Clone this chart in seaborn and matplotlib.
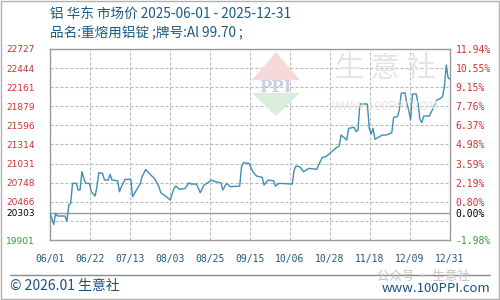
import numpy as np
import pandas as pd
import matplotlib
matplotlib.use("Agg")
import matplotlib.pyplot as plt
from matplotlib.patches import Polygon, Rectangle
from matplotlib.lines import Line2D
from matplotlib.collections import LineCollection
import seaborn as sns

# ---- data ----
start_date = "2025-06-01"
day_offsets = [0, 2, 3, 4, 8, 9, 10, 11, 12, 14, 15, 16, 17, 18, 19, 21, 22, 24, 25, 26,
               28, 29, 31, 32, 33, 36, 37, 38, 40, 43, 44, 46, 48, 49, 51, 52, 56, 58, 59, 62,
               64, 66, 67, 69, 72, 74, 75, 78, 80, 82, 84, 86, 88, 91, 92, 94, 96, 101, 102, 103,
               106, 108, 110, 113, 114, 116, 119, 120, 122, 129, 130, 131, 133, 135, 137, 138, 142, 145, 147, 149,
               152, 154, 155, 157, 158, 159, 162, 163, 164, 165, 169, 170, 171, 172, 173, 177, 179, 182, 183, 185,
               186, 187, 189, 190, 191, 192, 193, 195, 196, 197, 198, 199, 202, 204, 206, 208, 209, 210, 211, 212, 213]
prices = [20303, 20133, 20295, 20256, 20256, 20180, 20418, 20443, 20739, 20739, 20640, 20640, 20911, 20813, 20739, 20739, 20615, 20551, 20689, 20896,
          20886, 20788, 20788, 20872, 20788, 20778, 20615, 20689, 20798, 20798, 20541, 20640, 20729, 20837, 20946, 20911, 20798, 20689, 20600, 20541,
          20492, 20665, 20699, 20650, 20665, 20748, 20729, 20729, 20600, 20714, 20748, 20788, 20763, 20748, 20640, 20739, 20689, 20699, 20985, 21044,
          21034, 20911, 20847, 20828, 20714, 20788, 20778, 20699, 20739, 20729, 20936, 20995, 20985, 20911, 20946, 20961, 20946, 21124, 21134, 21183,
          21257, 21291, 21454, 21405, 21380, 21553, 21568, 21503, 21528, 21913, 21913, 21553, 21469, 21553, 21391, 21454, 21454, 21488, 21716, 21726,
          21824, 22071, 22081, 21923, 21824, 21676, 22061, 22061, 21923, 21686, 21636, 21735, 21735, 21849, 21972, 21997, 22021, 22169, 22490, 22300, 22280]
base_price = 20303
y_ticks = [22727, 22444, 22161, 21879, 21596, 21314, 21031, 20748, 20466, 20183, 19901]
y_labels = ["22727", "22444", "22161", "21879", "21596", "21314", "21031", "20748", "20466", "", "19901"]
pct_labels = ["11.94%", "10.55%", "9.15%", "7.76%", "6.37%", "4.98%", "3.59%", "2.19%", "0.80%", "", "-1.98%"]
x_labels = ["06/01", "06/22", "07/13", "08/03", "08/25", "09/15", "10/06", "10/28", "11/18", "12/09", "12/31"]
end_date = "2025-12-31"
title1 = "铝 华东 市场价 2025-06-01 - 2025-12-31"
title2 = "品名:重熔用铝锭 ;牌号:Al 99.70 ;"

dates = pd.to_datetime(start_date) + pd.to_timedelta(day_offsets, unit="D")
df = pd.DataFrame({"date": dates, "price": prices})
df["day"] = (df["date"] - pd.to_datetime(start_date)).dt.days
total_days = (pd.to_datetime(end_date) - pd.to_datetime(start_date)).days

sns.set_style("white")
plt.rcParams["font.family"] = ["Noto Sans CJK SC", "DejaVu Sans"]

fig = plt.figure(figsize=(5, 3), dpi=100)
ax = fig.add_axes([0.1, 0.2, 0.8, 0.6367])

# watermark logo & text (decoration)
tf = fig.transFigure
def P(x, y):
    return (x / 500, 1 - y / 300)
fig.patches.append(Polygon([P(252, 80), P(276, 52), P(300, 80)], closed=True,
                           transform=tf, facecolor="#f6dada", edgecolor="none", zorder=0))
fig.patches.append(Polygon([P(252, 93), P(276, 116), P(300, 93)], closed=True,
                           transform=tf, facecolor="#d9eedb", edgecolor="none", zorder=0))
fig.text(276 / 500, 1 - 87 / 300, "PPI", ha="center", va="center", fontsize=12,
         color="#ccd0e2", fontweight="bold", family="DejaVu Serif", zorder=0)
fig.text(385 / 500, 1 - 69 / 300, "生 意 社", ha="center", va="center", fontsize=21,
         color="#e2e4ea", zorder=0)
fig.text(385 / 500, 1 - 107 / 300, "WWW.100PPI.COM", ha="center", va="center", fontsize=9,
         color="#e6e6e6", zorder=0)
ax.patch.set_visible(False)

sns.lineplot(data=df, x="day", y="price", ax=ax, color="#3d8fb5", linewidth=1.0, zorder=5)

ax.set_xlim(0, total_days)
ax.set_ylim(min(y_ticks), max(y_ticks))
xt = np.linspace(0, total_days, len(x_labels))
ax.set_xticks(xt)
ax.set_xticklabels(x_labels, family="DejaVu Sans Mono", fontsize=7, color="#1e5a7e")
ax.set_yticks(y_ticks + [base_price])
ax.set_yticklabels(y_labels + [str(base_price)], family="DejaVu Sans", fontsize=6.5)
for lab, v in zip(ax.get_yticklabels(), y_ticks + [base_price]):
    if v == base_price:
        lab.set_color("black")
    elif v == min(y_ticks):
        lab.set_color("#3a9a3a")
    else:
        lab.set_color("#cc3333")
ax.set_xlabel("")
ax.set_ylabel("")
ax.tick_params(axis="both", length=0)
ax.tick_params(axis="y", pad=11)
ax.tick_params(axis="x", pad=10)

for s in ax.spines.values():
    s.set_color("#999999")
    s.set_linewidth(1.0)

ax2 = ax.twinx()
ax2.patch.set_visible(False)
ax2.set_ylim(ax.get_ylim())
ax2.set_yticks(y_ticks + [base_price])
ax2.set_yticklabels(pct_labels + ["0.00%"], family="DejaVu Sans Mono", fontsize=7)
for lab, v in zip(ax2.get_yticklabels(), y_ticks + [base_price]):
    if v == base_price:
        lab.set_color("black")
    elif v == min(y_ticks):
        lab.set_color("#3a9a3a")
    else:
        lab.set_color("#cc3333")
ax2.tick_params(axis="y", length=0, pad=4)
for s in ax2.spines.values():
    s.set_visible(False)
ax2.grid(False)

# dashed grid: figure-level artists placed in the axes' frame
ax_w_px, ax_h_px = 400.0, 191.0
dash_on, dash_period = 3.0, 5.0
segs = []
xs = np.arange(0, ax_w_px, dash_period) / ax_w_px
for v in y_ticks[1:-1]:
    yf = (v - min(y_ticks)) / (max(y_ticks) - min(y_ticks))
    for x0 in xs:
        segs.append([(x0, yf), (min(x0 + dash_on / ax_w_px, 1), yf)])
ys = np.arange(0, ax_h_px, dash_period) / ax_h_px
for x in xt[1:-1]:
    xf = x / total_days
    for y0 in ys:
        segs.append([(xf, y0), (xf, min(y0 + dash_on / ax_h_px, 1))])
grid = LineCollection(segs, colors="#b8b8b8", linewidths=0.8, transform=ax.transAxes,
                      zorder=-1, capstyle="butt")
fig.add_artist(grid)
ax.axhline(base_price, color="#999999", linewidth=1.0, zorder=4.6)

# titles
fig.text(50 / 500, 1 - 15 / 300, title1, ha="left", va="center", fontsize=9.8, color="#1c5a82")
fig.text(50 / 500, 1 - 33 / 300, title2, ha="left", va="center", fontsize=9.8, color="#1c5a82")

# footer
fig.add_artist(Line2D([10 / 500, 490 / 500], [1 - 275 / 300] * 2, transform=tf,
                      color="#8a8a8a", linewidth=1.0))
fig.add_artist(Rectangle((0.001, 0.002), 0.997, 0.996, transform=tf, fill=False,
                         edgecolor="#b0b0b0", linewidth=1.0))
fig.text(10 / 500, 1 - 286 / 300, "© 2026.01 生意社", ha="left", va="center",
         fontsize=10, color="#1c4f7c")
fig.text(490 / 500, 1 - 288 / 300, "www.100PPI.com", ha="right", va="center",
         fontsize=9.5, color="#1c4f7c")
fig.text(470 / 500, 1 - 276 / 300, "公众号 · 生意社", ha="right", va="center",
         fontsize=9, color="#c4c4c4")

fig.savefig("out.png", dpi=100)
